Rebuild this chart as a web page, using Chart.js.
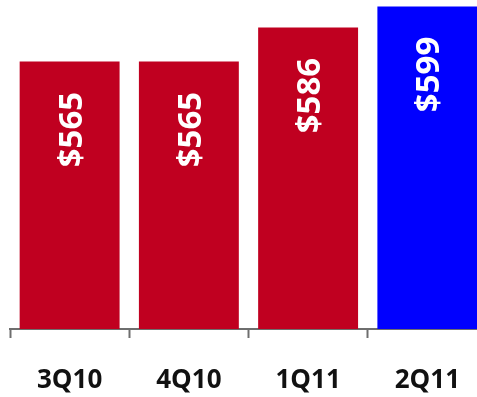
<!DOCTYPE html>
<html>
<head>
<meta charset="utf-8">
<script src="https://cdn.jsdelivr.net/npm/chart.js@4.4.1/dist/chart.umd.min.js"></script>
<style>
  html, body { margin: 0; padding: 0; background: #ffffff; overflow: hidden; }
  #wrap { width: 477px; height: 397px; overflow: hidden; }
</style>
</head>
<body>
<div id="wrap"><canvas id="revChart" width="487" height="397"></canvas></div>
<script>
// Quarterly values (in $)
const quarters = ['3Q10', '4Q10', '1Q11', '2Q11'];
const revenue = [565, 565, 586, 599];
const barColors = ['#C00020', '#C00020', '#C00020', '#0000FF'];

// Draws "$xxx" rotated inside each bar, near its top
const barLabels = {
    id: 'barLabels',
    afterDatasetsDraw(chart) {
        const ctx = chart.ctx;
        const meta = chart.getDatasetMeta(0);
        ctx.save();
        ctx.fillStyle = '#ffffff';
        ctx.font = 'bold 33px "Open Sans", sans-serif';
        ctx.textAlign = 'center';
        ctx.textBaseline = 'alphabetic';
        meta.data.forEach((bar, i) => {
            ctx.save();
            ctx.translate(bar.x + 12, bar.y + 68);
            ctx.rotate(-Math.PI / 2);
            ctx.fillText('$' + revenue[i], 0, 0);
            ctx.restore();
        });
        ctx.restore();
    }
};

const ctx = document.getElementById('revChart').getContext('2d');
const revChart = new Chart(ctx, {
    type: 'bar',
    data: {
        labels: quarters,
        datasets: [{
            data: revenue,
            backgroundColor: barColors,
            borderWidth: 0,
            categoryPercentage: 1,
            barPercentage: 0.838
        }]
    },
    options: {
        responsive: false,
        animation: false,
        layout: { padding: { left: 10, right: 0, top: 0, bottom: 0 } },
        plugins: {
            legend: { display: false },
            tooltip: { enabled: false }
        },
        scales: {
            x: {
                offset: true,
                grid: {
                    offset: true,
                    drawOnChartArea: false,
                    drawTicks: true,
                    tickLength: 9,
                    tickWidth: 2,
                    tickColor: '#6e6e6e'
                },
                border: { display: true, color: '#6e6e6e', width: 2 },
                ticks: {
                    color: '#111111',
                    font: { family: '"Open Sans", sans-serif', size: 26, weight: 'bold' },
                    padding: 27,
                    maxRotation: 0
                },
                afterFit: scale => { scale.height = 68; }
            },
            y: {
                display: false,
                min: 400,
                max: 603
            }
        }
    },
    plugins: [barLabels]
});
</script>
</body>
</html>
